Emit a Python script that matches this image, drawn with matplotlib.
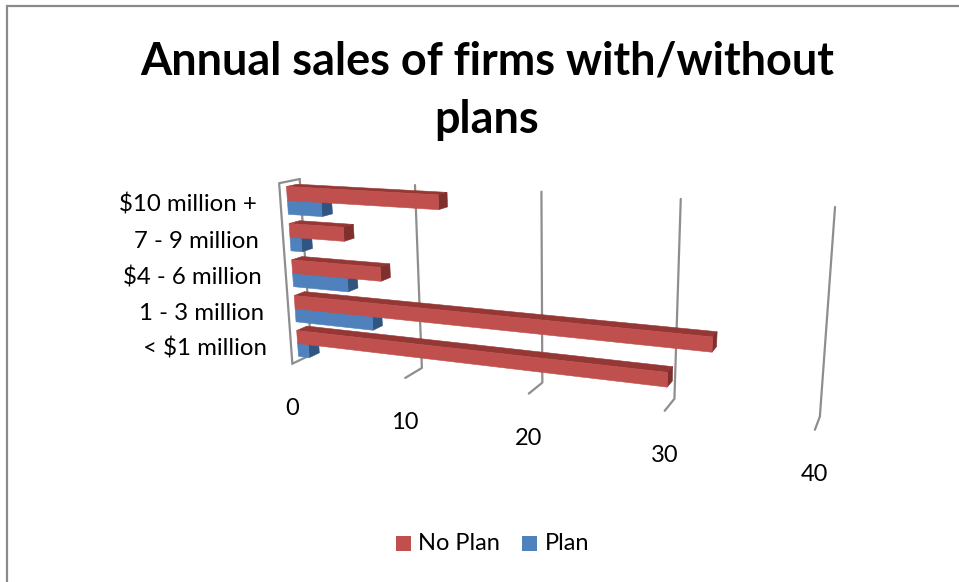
import numpy as np
import matplotlib
matplotlib.use("Agg")
import matplotlib.pyplot as plt
from matplotlib.patches import Polygon, Rectangle

# ---- chart data ----
categories = ["< $1 million", "1 - 3 million", "$4 - 6 million", "7 - 9 million", "$10 million +"]
no_plan = [29.9, 32.9, 7.8, 4.8, 12.8]
plan = [1.0, 6.9, 4.9, 1.0, 3.0]
value_ticks = [0, 10, 20, 30, 40]
title = "Annual sales of firms with/without\nplans"

# ---- 3D view: fit a camera from the chart's box corners ----
world = np.array([(0,0,1),(10,0,1),(20,0,1),(30,0,1),(40,0,1),
                  (0,1,1),(10,1,1),(20,1,1),(30,1,1),(40,1,1),
                  (0,0,0),(10,0,0),(20,0,0),(30,0,0),(40,0,0),(0,1,0)], float)
image = np.array([(311,357),(422,367),(543,380),(674,399),(820,417),
                  (300,179),(415,185),(541,191),(681,199),(835,208),
                  (293,363),(405,378),(528,395),(665,410),(815,430),(279,183)], float)
A = []
for (X, Y, Z), (u, v) in zip(world, image):
    A.append([X, Y, Z, 1, 0, 0, 0, 0, -u*X, -u*Y, -u*Z, -u])
    A.append([0, 0, 0, 0, X, Y, Z, 1, -v*X, -v*Y, -v*Z, -v])
P = np.linalg.svd(np.array(A))[2][-1].reshape(3, 4)

def proj(x, h, d):
    q = P @ np.array([x, h, d, 1.0])
    return q[0]/q[2], q[1]/q[2]

# ---- figure ----
fig = plt.figure(figsize=(9.59, 5.82), dpi=100)
ax = fig.add_axes([0, 0, 1, 1])
ax.set_xlim(0, 959); ax.set_ylim(582, 0); ax.axis("off")
font = "Lato"
GRID = "#8e8e8e"

# chart frame: only its top and left edges fall inside the picture
ax.plot([6.5, 6.5, 959], [582, 6, 6], color="#8a8a8a", lw=1.6, solid_joinstyle="miter")
ax.text(487, 91, title, ha="center", va="center", fontsize=32.4, fontweight="bold",
        family=font, color="black", linespacing=1.48)

# walls
def line(pts):
    xy = [proj(*p) for p in pts]
    ax.plot(*zip(*xy), color=GRID, lw=1.6, solid_capstyle="round", zorder=1)

for t in value_ticks:
    line([(t, 1, 1), (t, 0, 1), (t, 0, 0)])
line([(0, 1, 1), (0, 1, 0), (0, 0, 0)])

# bars
n = len(categories)
bar_h = 0.075
d0, d1 = 0.33, 0.86

def box(val, h0, h1, face, top, side, z):
    def poly(pts, c):
        ax.add_patch(Polygon([proj(*p) for p in pts], closed=True, fc=c, ec=c, lw=0.4, zorder=z))
    poly([(0, h1, d0), (val, h1, d0), (val, h1, d1), (0, h1, d1)], top)
    poly([(val, h0, d0), (val, h1, d0), (val, h1, d1), (val, h0, d1)], side)
    poly([(0, h0, d0), (val, h0, d0), (val, h1, d0), (0, h1, d0)], face)

for i in reversed(range(n)):
    c = (i + 0.5) / n
    z = 3 + (n - i) * 2
    box(plan[i], c - bar_h, c, "#4F81BD", "#3E6797", "#2F5580", z)
    box(no_plan[i], c, c + bar_h, "#C0504D", "#953735", "#7F2F2D", z + 1)

# labels
for i, lab in enumerate(categories):
    x, y = proj(0, (i + 0.5) / n, 0)
    ax.text(x - 24, y + 2, lab, ha="right", va="center", fontsize=17.3, family=font, color="black")
for t in value_ticks:
    x, y = proj(t, 0, 0)
    ax.text(x, y + 45, str(t), ha="center", va="center", fontsize=17, family=font, color="black")

# legend
ax.add_patch(Rectangle((396, 536), 15, 15, fc="#C0504D", ec="none"))
ax.text(418, 543, "No Plan", ha="left", va="center", fontsize=17, family=font)
ax.add_patch(Rectangle((522, 536), 15, 15, fc="#4F81BD", ec="none"))
ax.text(545, 543, "Plan", ha="left", va="center", fontsize=17, family=font)

fig.savefig("out.png", dpi=100)
